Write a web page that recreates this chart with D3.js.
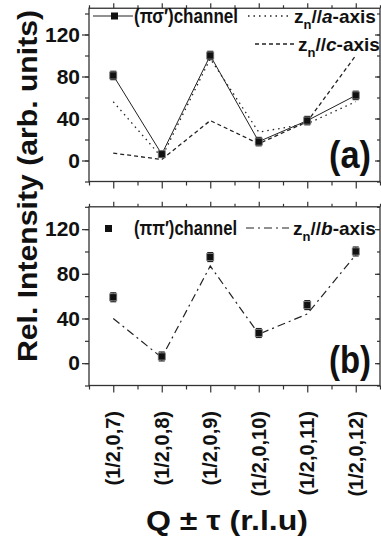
<!DOCTYPE html>
<html>
<head>
<meta charset="utf-8">
<script src="https://cdn.jsdelivr.net/npm/d3@7"></script>
<style>
  html, body { margin: 0; padding: 0; background: #fff; }
  svg { display: block; }
  text { font-family: "Liberation Sans", Arial, sans-serif; font-weight: bold; fill: #111; }
</style>
</head>
<body>
<div id="chart"></div>
<script>
// Q positions (l index) and their tick labels
const qIndex = [7, 8, 9, 10, 11, 12];
const qLabels = ['(1/2,0,7)', '(1/2,0,8)', '(1/2,0,9)', '(1/2,0,10)', '(1/2,0,11)', '(1/2,0,12)'];

// panel (a): (pi sigma') channel and two models
const piSigma = [81, 6, 100, 18, 38, 62];
const piSigmaErr = [4, 3, 4, 4, 4, 4];
const modelA = [56, 3, 97, 27, 35, 56];
const modelC = [7, 1, 38, 16, 37, 100];

// panel (b): (pi pi') channel and model
const piPi = [59, 6, 95, 27, 52, 100];
const piPiErr = [4, 4, 4, 4, 4, 4];
const modelB = [40, 5, 87, 26, 44, 97];

const yTicks = [0, 40, 80, 120];

const W = 381, H = 542;
const svg = d3.select('#chart').append('svg').attr('width', W).attr('height', H);

const x = d3.scaleLinear().domain([6.5, 12.5]).range([89, 380]);

function drawPanel(yDomain, yRange, tag) {
  const y = d3.scaleLinear().domain(yDomain).range(yRange);
  const g = svg.append('g');
  const [x0, x1] = x.range();
  const [yb, yt] = y.range();

  // minor + major ticks, left
  g.append('g').attr('transform', `translate(${x0},0)`)
    .call(d3.axisLeft(y).tickValues(d3.range(-20, yDomain[1] + 1, 20)).tickSize(4).tickFormat(''));
  g.append('g').attr('transform', `translate(${x0},0)`)
    .call(d3.axisLeft(y).tickValues(yTicks).tickSize(7).tickPadding(2).tickFormat(d3.format('d')))
    .selectAll('text').attr('font-size', 21).attr('font-weight', 'bold').attr('fill', '#111')
    .attr('font-family', '"Liberation Sans", Arial, sans-serif');
  // right side (inward)
  g.append('g').attr('transform', `translate(${x1},0)`)
    .call(d3.axisLeft(y).tickValues(yTicks).tickSize(5).tickFormat(''));
  g.append('g').attr('transform', `translate(${x1},0)`)
    .call(d3.axisLeft(y).tickValues(d3.range(-20, yDomain[1] + 1, 20)).tickSize(3).tickFormat(''));
  // bottom
  g.append('g').attr('transform', `translate(0,${yb})`)
    .call(d3.axisBottom(x).tickValues(d3.range(6.5, 12.6, 1)).tickSize(4).tickFormat(''));
  g.append('g').attr('transform', `translate(0,${yb})`)
    .call(d3.axisBottom(x).tickValues(qIndex).tickSize(7).tickFormat(''));
  // top
  g.append('g').attr('transform', `translate(0,${yt})`)
    .call(d3.axisTop(x).tickValues(d3.range(6.5, 12.6, 1)).tickSize(3).tickFormat(''));
  g.append('g').attr('transform', `translate(0,${yt})`)
    .call(d3.axisTop(x).tickValues(qIndex).tickSize(5).tickFormat(''));

  g.selectAll('.domain').remove();
  g.selectAll('.tick line').attr('stroke', '#333').attr('stroke-width', 1.2);

  g.append('rect')
    .attr('x', x0).attr('y', yt).attr('width', x1 - x0).attr('height', yb - yt)
    .attr('fill', 'none').attr('stroke', '#333').attr('stroke-width', 1.3);

  g.append('text')
    .attr('x', 329).attr('y', tag === 'a' ? 168 : 373)
    .attr('font-size', 38).attr('textLength', 42).attr('lengthAdjust', 'spacingAndGlyphs')
    .text(`(${tag})`);

  return { g, y };
}

function drawLine(p, vals, dash, width) {
  const line = d3.line().x((d, i) => x(qIndex[i])).y(d => p.y(d));
  p.g.append('path').datum(vals)
    .attr('d', line).attr('fill', 'none').attr('stroke', '#222')
    .attr('stroke-width', width).attr('stroke-dasharray', dash);
}

function drawPoints(p, vals, errs) {
  const pts = p.g.append('g').selectAll('g').data(vals).join('g')
    .attr('transform', (d, i) => `translate(${x(qIndex[i])},0)`);
  pts.append('line')
    .attr('y1', (d, i) => p.y(d - errs[i])).attr('y2', (d, i) => p.y(d + errs[i]))
    .attr('stroke', '#222').attr('stroke-width', 1.2);
  [-1, 1].forEach(s => {
    pts.append('line').attr('x1', -3).attr('x2', 3)
      .attr('y1', (d, i) => p.y(d + s * errs[i])).attr('y2', (d, i) => p.y(d + s * errs[i]))
      .attr('stroke', '#222').attr('stroke-width', 1.2);
  });
  pts.append('rect')
    .attr('x', -3.5).attr('y', d => p.y(d) - 3.5).attr('width', 7).attr('height', 7)
    .attr('fill', '#111').attr('stroke', '#777').attr('stroke-width', 0.8);
}

function legendText(g, xPos, yPos, label, len) {
  return g.append('text').attr('x', xPos).attr('y', yPos).attr('font-size', 21)
    .attr('textLength', len).attr('lengthAdjust', 'spacingAndGlyphs').text(label);
}

// "z_n//<axis>-axis" written as one text with a subscript n
function zLabel(g, xPos, yPos, ax) {
  const t = g.append('text').attr('x', xPos).attr('y', yPos).attr('font-size', 19);
  t.append('tspan').text('z');
  t.append('tspan').attr('font-size', 13).attr('baseline-shift', '-6').text('n');
  t.append('tspan').text('//');
  t.append('tspan').attr('font-style', 'italic').text(ax);
  t.append('tspan').text('-axis');
  return t;
}

// panel (a)
const pa = drawPanel([-20, 145], [181.5, 8.25], 'a');
drawLine(pa, modelA, '1.5,4', 1.3);
drawLine(pa, modelC, '4,3', 1.3);
drawLine(pa, piSigma, null, 1);
drawPoints(pa, piSigma, piSigmaErr);

// legend (a)
pa.g.append('line').attr('x1', 93).attr('x2', 133).attr('y1', 16).attr('y2', 16)
  .attr('stroke', '#222').attr('stroke-width', 1);
pa.g.append('rect').attr('x', 111).attr('y', 12.5).attr('width', 7).attr('height', 7).attr('fill', '#111');
legendText(pa.g, 134, 23, '(πσ\u2032)channel', 104);
pa.g.append('line').attr('x1', 248).attr('x2', 290).attr('y1', 16).attr('y2', 16)
  .attr('stroke', '#222').attr('stroke-width', 1.3).attr('stroke-dasharray', '1.5,4');
zLabel(pa.g, 294, 23, 'a');
pa.g.append('line').attr('x1', 255).attr('x2', 296).attr('y1', 44).attr('y2', 44)
  .attr('stroke', '#222').attr('stroke-width', 1.3).attr('stroke-dasharray', '4,3');
zLabel(pa.g, 298, 51, 'c');

// panel (b)
const pb = drawPanel([-20, 140], [385.5, 206.8], 'b');
drawLine(pb, modelB, '8,4,2,4', 1.2);
drawPoints(pb, piPi, piPiErr);

// legend (b)
pb.g.append('rect').attr('x', 105).attr('y', 225).attr('width', 7).attr('height', 7).attr('fill', '#111');
legendText(pb.g, 134, 235, '(ππ\u2032)channel', 103);
pb.g.append('line').attr('x1', 246).attr('x2', 289).attr('y1', 228).attr('y2', 228)
  .attr('stroke', '#222').attr('stroke-width', 1.2).attr('stroke-dasharray', '8,4,2,4');
zLabel(pb.g, 293, 235, 'b');

// x tick labels (rotated)
svg.append('g').selectAll('text').data(qLabels).join('text')
  .attr('transform', (d, i) => `translate(${x(qIndex[i]) + 7},411) rotate(-90)`)
  .attr('text-anchor', 'end').attr('font-size', 20)
  .text(d => d);

// axis titles
svg.append('text')
  .attr('x', 227).attr('y', 530).attr('text-anchor', 'middle')
  .attr('font-size', 28).attr('textLength', 162).attr('lengthAdjust', 'spacingAndGlyphs')
  .text('Q \u00b1 \u03c4  (r.l.u)');

svg.append('text')
  .attr('transform', 'translate(37,186) rotate(-90)').attr('text-anchor', 'middle')
  .attr('font-size', 28).attr('textLength', 352).attr('lengthAdjust', 'spacingAndGlyphs')
  .text('Rel. Intensity (arb. units)');
</script>
</body>
</html>
